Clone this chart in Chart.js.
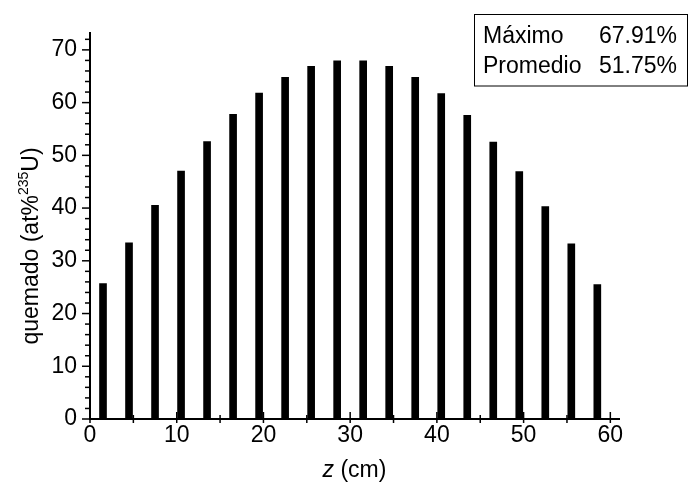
<!DOCTYPE html>
<html>
<head>
<meta charset="utf-8">
<script src="https://cdn.jsdelivr.net/npm/chart.js@4"></script>
<style>
  html, body { margin: 0; padding: 0; background: #fff; }
  #wrap { width: 689px; height: 484px; }
</style>
</head>
<body>
<div id="wrap"><canvas id="burnChart" width="689" height="484"></canvas></div>
<script>
// Axial positions of the fuel segments (cm) and burnup per segment
const zPositions = [1.5, 4.5, 7.5, 10.5, 13.5, 16.5, 19.5, 22.5, 25.5, 28.5,
                    31.5, 34.5, 37.5, 40.5, 43.5, 46.5, 49.5, 52.5, 55.5, 58.5];
const burnup = [25.7, 33.4, 40.5, 47.0, 52.6, 57.8, 61.8, 64.8, 66.9, 67.91,
                67.91, 66.9, 64.8, 61.7, 57.6, 52.5, 46.9, 40.3, 33.2, 25.5];

// Summary box
const summaryLabels = ['Máximo', 'Promedio'];
const summaryValues = ['67.91%', '51.75%'];

const FONT = '"Liberation Sans", Arial, Helvetica, sans-serif';

// Axis decorations: crossing major ticks, minor ticks, titles, summary box
const decorations = {
  id: 'decorations',
  afterDraw(chart) {
    const ctx = chart.ctx;
    const xs = chart.scales.x, ys = chart.scales.y;
    const area = chart.chartArea;
    ctx.save();
    ctx.strokeStyle = '#000';
    ctx.lineWidth = 1.5;

    // x ticks
    for (let v = 0; v <= 60; v += 5) {
      const px = xs.getPixelForValue(v);
      const major = v % 10 === 0;
      ctx.beginPath();
      ctx.moveTo(px, area.bottom - (major ? 7 : 4));
      ctx.lineTo(px, area.bottom + 4);
      ctx.stroke();
    }
    // y ticks
    for (let v = 0; v <= 72; v += 2) {
      const py = ys.getPixelForValue(v);
      const major = v % 10 === 0;
      ctx.beginPath();
      ctx.moveTo(area.left - (major ? 8 : 5), py);
      ctx.lineTo(area.left, py);
      ctx.stroke();
    }

    ctx.fillStyle = '#000';
    ctx.textBaseline = 'alphabetic';

    // x title: italic z (cm)
    const zPart = 'z';
    const rest = ' (cm)';
    ctx.font = 'italic 23px ' + FONT;
    const wz = ctx.measureText(zPart).width;
    ctx.font = '23px ' + FONT;
    const wr = ctx.measureText(rest).width;
    const cx = (area.left + area.right) / 2;
    let tx = cx - (wz + wr) / 2;
    ctx.font = 'italic 23px ' + FONT;
    ctx.textAlign = 'left';
    ctx.fillText(zPart, tx, 477);
    ctx.font = '23px ' + FONT;
    ctx.fillText(rest, tx + wz, 477);

    // y title: quemado (at%^235U)
    ctx.save();
    ctx.translate(38, 246);
    ctx.rotate(-Math.PI / 2);
    const p1 = 'quemado (at%';
    const sup = '235';
    const p2 = 'U)';
    ctx.font = '23px ' + FONT;
    const w1 = ctx.measureText(p1).width;
    const w2 = ctx.measureText(p2).width;
    ctx.font = '14px ' + FONT;
    const ws = ctx.measureText(sup).width;
    let sx = -(w1 + ws + w2) / 2;
    ctx.font = '23px ' + FONT;
    ctx.fillText(p1, sx, 0);
    ctx.font = '14px ' + FONT;
    ctx.fillText(sup, sx + w1, -10);
    ctx.font = '23px ' + FONT;
    ctx.fillText(p2, sx + w1 + ws, 0);
    ctx.restore();

    // summary box
    ctx.lineWidth = 1;
    ctx.strokeRect(474.5, 14.5, 213, 71.5);
    ctx.font = '23px ' + FONT;
    ctx.textAlign = 'left';
    summaryLabels.forEach((lab, i) => {
      ctx.fillText(lab, 483, 43 + i * 29.5);
    });
    summaryValues.forEach((val, i) => {
      ctx.fillText(val, 599, 43 + i * 29.5);
    });
    ctx.restore();
  }
};

const ctx = document.getElementById('burnChart').getContext('2d');
new Chart(ctx, {
  type: 'bar',
  data: {
    datasets: [{
      data: zPositions.map((z, i) => ({ x: z, y: burnup[i] })),
      backgroundColor: '#000',
      borderWidth: 0,
      barThickness: 7
    }]
  },
  options: {
    responsive: false,
    animation: false,
    layout: { padding: { top: 33, right: 70, left: 0, bottom: 0 } },
    plugins: { legend: { display: false }, tooltip: { enabled: false } },
    scales: {
      x: {
        type: 'linear',
        min: 0,
        max: 61,
        offset: false,
        grid: { display: false, drawTicks: false, offset: false },
        border: { display: true, color: '#000', width: 2 },
        ticks: {
          stepSize: 10,
          includeBounds: false,
          padding: 3,
          color: '#000',
          font: { family: FONT, size: 23 }
        },
        afterFit: s => { s.height = 65; }
      },
      y: {
        min: 0,
        max: 73.2,
        grid: { display: false, drawTicks: false },
        border: { display: true, color: '#000', width: 2 },
        ticks: {
          stepSize: 10,
          includeBounds: false,
          padding: 13,
          color: '#000',
          font: { family: FONT, size: 23 }
        },
        afterFit: s => { s.width = 90; }
      }
    }
  },
  plugins: [decorations]
});
</script>
</body>
</html>
